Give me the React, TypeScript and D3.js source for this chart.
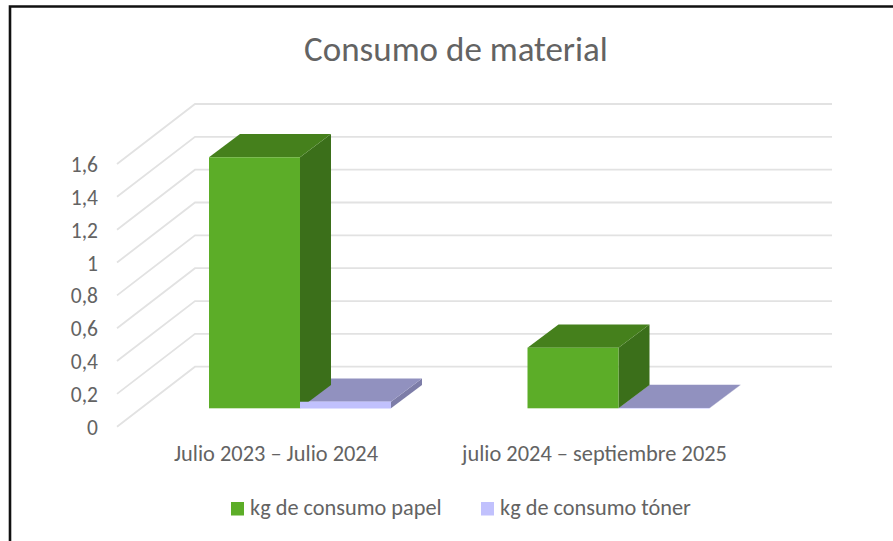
import React from "react";
import * as d3 from "d3";

const categories = ["Julio 2023 – Julio 2024", "julio 2024 – septiembre 2025"];
const seriesNames = ["kg de consumo papel", "kg de consumo tóner"];
const papel = [1.533, 0.37];
const toner = [0.04, 0.002];
const ticks = [0, 0.2, 0.4, 0.6, 0.8, 1, 1.2, 1.4, 1.6];
const frontColors = ["#5cad28", "#c1c1fd"];
const topColors = ["#45801c", "#9191bf"];
const sideColors = ["#3b6f1a", "#7d7da8"];

const W = 893, H = 541;
const FONT = "Carlito, Calibri, Lato, 'Open Sans', 'Noto Sans', sans-serif";
const TEXT = "#636363";

const yFront = d3.scaleLinear().domain([0, 1.6]).range([426.7, 164]);
const yBar = d3.scaleLinear().domain([0, 1.6]).range([408.3, 146.3]);
const xGroup = d3.scaleBand().domain(categories).range([141, 778]);
const GROUP = 91;
const gridDx = 78, gridDy = -60, barDx = 31, barDy = -23.3;
const right = 832;

function Box({ x, v, i }: { x: number; v: number; i: number }) {
  const x1 = x + GROUP;
  const y0 = yBar(0), y1 = yBar(v);
  const pts = (p: number[][]) => d3.line()(p as [number, number][]) + "Z";
  return (
    <g>
      <path d={pts([[x1, y1], [x1 + barDx, y1 + barDy], [x1 + barDx, y0 + barDy], [x1, y0]])} fill={sideColors[i]} />
      <path d={pts([[x, y1], [x + barDx, y1 + barDy], [x1 + barDx, y1 + barDy], [x1, y1]])} fill={topColors[i]} />
      <rect x={x} y={y1} width={GROUP} height={y0 - y1} fill={frontColors[i]} />
    </g>
  );
}

export default function App() {
  return (
    <svg width={W} height={H} style={{ position: "absolute", left: 0, top: 0, background: "#fff" }}>
      <path d={`M10 541V6.5H${W}`} fill="none" stroke="#111" strokeWidth={2.6} />
      <text x={456} y={61} textAnchor="middle" fontFamily={FONT} fontSize={35} fill={TEXT}>Consumo de material</text>
      {ticks.map(t => {
        const y = yFront(t);
        return (
          <g key={t}>
            <path d={`M117 ${y}L${117 + gridDx} ${y + gridDy}H${right}`} fill="none" stroke="#e2e2e2" strokeWidth={1.8} />
            <text x={98} y={y + 8} textAnchor="end" fontFamily={FONT} fontSize={21.5} fill={TEXT}>
              {String(t).replace(".", ",")}
            </text>
          </g>
        );
      })}
      {categories.map((c, k) => {
        const x = xGroup(c)! + 68;
        return (
          <g key={c}>
            <Box x={x + GROUP} v={toner[k]} i={1} />
            <Box x={x} v={papel[k]} i={0} />
            <rect x={x + GROUP} y={yBar(toner[k])} width={GROUP} height={yBar(0) - yBar(toner[k])} fill={frontColors[1]} />
            <text x={x + GROUP - 24} y={461} textAnchor="middle" fontFamily={FONT} fontSize={22.4} fill={TEXT}>{c}</text>
          </g>
        );
      })}
      {seriesNames.map((s, i) => {
        const x = [231, 481][i];
        return (
          <g key={s}>
            <rect x={x} y={502} width={13} height={13.5} fill={frontColors[i]} />
            <text x={x + 19} y={515} fontFamily={FONT} fontSize={22.3} fill={TEXT}>{s}</text>
          </g>
        );
      })}
    </svg>
  );
}
